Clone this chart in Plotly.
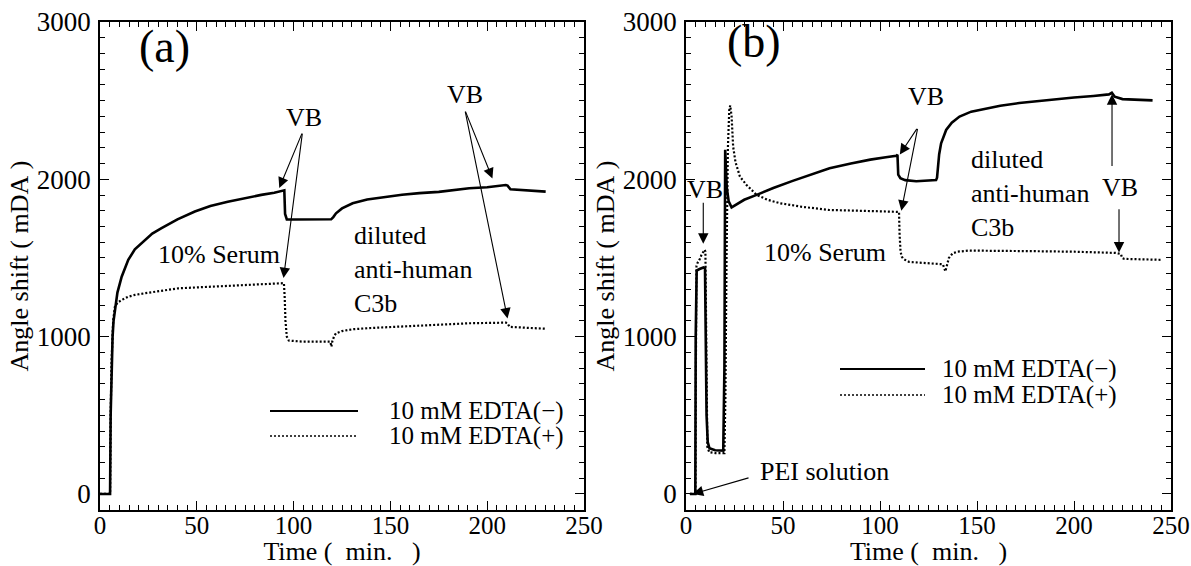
import plotly.graph_objects as go

# ---------------- data ----------------
# Panel (a)
t_a_minus = [0, 5.2, 5.5, 6.0, 6.5, 7.0, 7.7, 9, 11.2, 14.6, 18, 23.2, 27, 31.8, 40, 49, 57, 66, 75,
             83.3, 90, 93.6, 95.2, 95.6, 96.5, 100, 110, 119.4, 120.5, 121.9, 125, 130.5, 138, 147.7,
             156, 165, 175, 190.7, 200, 209.6, 210.5, 212, 220, 230.2]
v_a_minus = [0, 0, 500, 852, 1000, 1100, 1170, 1280, 1381, 1488, 1555, 1615, 1655, 1689, 1745, 1795,
             1830, 1858, 1882, 1901, 1915, 1925, 1930, 1780, 1745, 1745, 1745, 1746, 1760, 1784, 1815,
             1848, 1872, 1890, 1902, 1912, 1920, 1943, 1950, 1964, 1960, 1937, 1930, 1922]

t_a_plus = [0, 5.2, 5.5, 6.0, 6.8, 7.7, 9, 11.2, 14.6, 18, 23.2, 30, 40.4, 50, 66, 80, 93.6, 95.0,
            95.4, 95.8, 96.5, 97.5, 105, 119.0, 119.5, 120, 121, 121.9, 125, 130.5, 140, 156.3,
            175.3, 190.7, 209.6, 210.5, 211.5, 220, 230.2]
v_a_plus = [0, 0, 500, 852, 1100, 1191, 1215, 1233, 1254, 1265, 1276, 1290, 1307, 1313, 1322, 1328,
            1335, 1340, 1250, 1100, 1000, 975, 968, 968, 936, 970, 1005, 1021, 1035, 1047, 1055, 1064,
            1079, 1085, 1089, 1085, 1062, 1058, 1050]

# Panel (b)
t_b_minus = [2, 4.8, 5.0, 5.5, 7, 9, 9.8, 10.2, 10.6, 11.2, 12.1, 15, 19.2, 19.8, 20.2, 20.5, 21, 22,
             23.5, 26, 30, 36.4, 45, 55, 65, 74, 85, 95, 103, 108.4, 109.0, 109.4, 110.5, 113, 118.7,
             124, 128.9, 129.4, 129.8, 130.5, 131.5, 133, 134.1, 137, 141, 147, 154.7, 162, 171.8,
             190, 200, 210, 218, 219.5, 221, 225, 232, 240.5]
v_b_minus = [0, 0, 1000, 1420, 1430, 1440, 1435, 1000, 500, 330, 290, 278, 276, 800, 2188, 2100, 1950,
             1860, 1822, 1840, 1870, 1901, 1945, 1990, 2030, 2070, 2100, 2125, 2140, 2150, 2156, 2030,
             2007, 1995, 1988, 1990, 1996, 2010, 2081, 2160, 2229, 2285, 2314, 2360, 2399, 2430, 2452,
             2468, 2485, 2510, 2520, 2530, 2540, 2550, 2525, 2510, 2505, 2502]

t_b_plus = [2, 4.9, 5.1, 5.4, 6, 7, 8, 9, 9.6, 10.0, 10.4, 11, 12, 15, 19.8, 20.3, 20.9, 21.6, 22.3,
            22.8, 23.5, 24.3, 25.5, 27.8, 31.2, 36.4, 42, 48.4, 60, 74, 90, 100, 108.4, 109.8, 110.1,
            110.6, 111.2, 112, 115, 125, 132.4, 133.7, 134.3, 135.5, 137.5, 140, 146, 160, 180, 200,
            215, 221.5, 224.2, 224.8, 226, 235, 245.5]
v_b_plus = [0, 0, 800, 1450, 1470, 1490, 1520, 1545, 1552, 1540, 800, 300, 265, 260, 260, 600, 1500,
            2200, 2440, 2470, 2400, 2208, 2110, 2017, 1964, 1901, 1870, 1848, 1825, 1805, 1800, 1797,
            1795, 1793, 1650, 1540, 1509, 1494, 1475, 1465, 1460, 1415, 1440, 1500, 1530, 1540, 1547,
            1547, 1543, 1540, 1535, 1532, 1525, 1500, 1494, 1490, 1488]

x_ticks = [0, 50, 100, 150, 200, 250]
y_ticks = [0, 1000, 2000, 3000]
x_range = [0, 250]
y_range = [-102, 3000]

legend_names = ["10 mM EDTA(\u2212)", "10 mM EDTA(+)"]

# ---------------- figure ----------------
FONT = "'Liberation Serif', 'Times New Roman', Times, 'DejaVu Serif', serif"
W, H = 1191, 566

fig = go.Figure()
solid = dict(color="black", width=2.6)
dotted = dict(color="black", width=2.2, dash="2px,2px")

fig.add_trace(go.Scatter(x=t_a_minus, y=v_a_minus, mode="lines", line=solid, name=legend_names[0],
                         xaxis="x", yaxis="y", showlegend=False))
fig.add_trace(go.Scatter(x=t_a_plus, y=v_a_plus, mode="lines", line=dotted, name=legend_names[1],
                         xaxis="x", yaxis="y", showlegend=False))
fig.add_trace(go.Scatter(x=t_b_minus, y=v_b_minus, mode="lines", line=solid, name=legend_names[0],
                         xaxis="x2", yaxis="y2", showlegend=False))
fig.add_trace(go.Scatter(x=t_b_plus, y=v_b_plus, mode="lines", line=dotted, name=legend_names[1],
                         xaxis="x2", yaxis="y2", showlegend=False))

ytickfont = dict(family=FONT, size=27, color="black")
xtickfont = dict(family=FONT, size=25, color="black")
titlefont = dict(family=FONT, size=26, color="black")


def xaxis(domain, anchor):
    return dict(domain=domain, anchor=anchor, range=x_range, tickvals=x_ticks, automargin=False,
                ticks="inside", ticklen=9, tickwidth=1.2, tickcolor="black",
                minor=dict(dtick=5, ticks="inside", ticklen=5, tickwidth=1, tickcolor="black"),
                showline=True, linecolor="black", linewidth=1.5, mirror="allticks",
                showgrid=False, zeroline=False, tickfont=xtickfont, ticklabelstandoff=-8,
                title=dict(text="Time\u00a0(\u00a0\u00a0min.\u00a0\u00a0\u00a0)", font=titlefont,
                           standoff=12))


def yaxis(domain, anchor):
    return dict(domain=domain, anchor=anchor, range=y_range, tickvals=y_ticks, automargin=False,
                ticks="inside", ticklen=9, tickwidth=1.2, tickcolor="black",
                minor=dict(dtick=100, ticks="inside", ticklen=5, tickwidth=1, tickcolor="black"),
                showline=True, linecolor="black", linewidth=1.5, mirror="allticks",
                showgrid=False, zeroline=False, tickfont=ytickfont, ticklabelstandoff=2,
                title=dict(text="Angle shift\u00a0(\u00a0mDA\u00a0)", font=titlefont, standoff=1))


ydom = [1 - 510 / H, 1 - 22 / H]
fig.update_layout(
    width=W, height=H, margin=dict(l=0, r=0, t=0, b=0, autoexpand=False),
    paper_bgcolor="white", plot_bgcolor="white",
    font=dict(family=FONT, color="black"),
    xaxis=xaxis([100 / W, 584 / W], "y"),
    yaxis=yaxis(ydom, "x"),
    xaxis2=xaxis([686 / W, 1171 / W], "y2"),
    yaxis2=yaxis(ydom, "x2"),
)

ann = []


def text(xr, yr, x, y, s, size=26, xanchor="center"):
    ann.append(dict(xref=xr, yref=yr, x=x, y=y, text=s, showarrow=False,
                    font=dict(family=FONT, size=size, color="black"),
                    xanchor=xanchor, yanchor="middle", align="left"))


def arrow(xr, yr, x, y, ax, ay):
    ann.append(dict(xref=xr, yref=yr, axref=xr, ayref=yr, x=x, y=y, ax=ax, ay=ay, text="",
                    showarrow=True, arrowhead=2, arrowsize=1.9, arrowwidth=1.1,
                    arrowcolor="black", standoff=0, startstandoff=0))


# panel (a)
text("x", "y", 33.5, 2842, "(a)", size=46)
text("x", "y", 105.5, 2390, "VB")
arrow("x", "y", 92.6, 1945, 104.6, 2300)
arrow("x", "y", 94.8, 1372, 104.6, 2300)
text("x", "y", 188.5, 2537, "VB")
arrow("x", "y", 202.7, 2005, 188.5, 2440)
arrow("x", "y", 210.5, 1115, 188.5, 2440)
text("x", "y", 29, 1519, "10% Serum", xanchor="left")
text("x", "y", 130, 1424, "diluted<br>anti-human<br>C3b", xanchor="left")

# panel (b)
text("x2", "y2", 35, 2873, "(b)", size=46)
text("x2", "y2", 9.6, 1933, "VB")
arrow("x2", "y2", 8.9, 1590, 8.9, 1860)
text("x2", "y2", 37, 140, "PEI solution", xanchor="left")
arrow("x2", "y2", 3.5, 0, 33, 105)
text("x2", "y2", 123.5, 2524, "VB")
arrow("x2", "y2", 110.2, 2158, 119.5, 2330)
arrow("x2", "y2", 111.0, 1800, 119.5, 2330)
text("x2", "y2", 223.5, 1945, "VB")
arrow("x2", "y2", 219.6, 2540, 219.6, 2075)
arrow("x2", "y2", 223.2, 1535, 223.2, 1820)
text("x2", "y2", 39, 1532, "10% Serum", xanchor="left")
text("x2", "y2", 146, 1913, "diluted<br>anti-human<br>C3b", xanchor="left")

# legend samples (paper coords)
shapes = []
legend_rows = [((270, 358, 387), (411, 436)), ((840, 925, 940), (369, 395))]
for (x0, x1, xt), (ys, yd) in legend_rows:
    shapes.append(dict(type="line", xref="paper", yref="paper", x0=x0 / W, x1=x1 / W,
                       y0=1 - ys / H, y1=1 - ys / H, line=dict(color="black", width=1.8)))
    shapes.append(dict(type="line", xref="paper", yref="paper", x0=x0 / W, x1=x1 / W,
                       y0=1 - yd / H, y1=1 - yd / H, line=dict(color="black", width=1.5, dash="2px,2px")))
    text("paper", "paper", xt / W, 1 - ys / H, legend_names[0], xanchor="left", size=25)
    text("paper", "paper", xt / W, 1 - yd / H, legend_names[1], xanchor="left", size=25)

fig.update_layout(annotations=ann, shapes=shapes)
fig.write_html("out.html")
